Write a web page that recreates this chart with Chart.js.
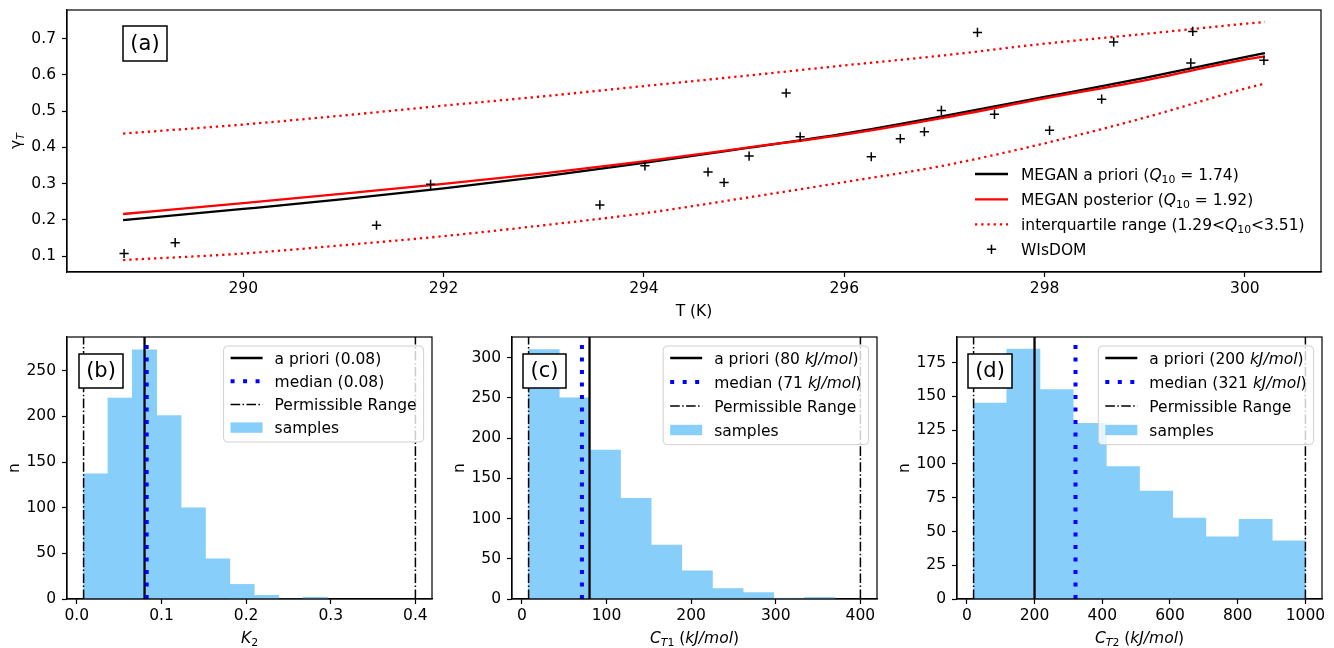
<!DOCTYPE html>
<html>
<head>
<meta charset="utf-8">
<title>MEGAN temperature response</title>
<script src="https://cdn.jsdelivr.net/npm/chart.js@4.4.0/dist/chart.umd.min.js"></script>
<style>
  body { margin: 0; background: #fff; }
  #page { position: relative; width: 1334px; height: 648px; overflow: hidden; }
  canvas { position: absolute; }
</style>
</head>
<body>
<div id="page"></div>
<script>
// ---- panel (a): temperature response curves ----
const T_CURVE = [288.8, 290, 291, 292, 293, 294, 295, 296, 297, 298, 299, 300, 300.2];
const GAMMA_PRIOR = [0.199, 0.230, 0.257, 0.287, 0.320, 0.357, 0.397, 0.438, 0.487, 0.539, 0.592, 0.649, 0.660];
const GAMMA_POSTERIOR = [0.216, 0.246, 0.272, 0.299, 0.328, 0.361, 0.398, 0.435, 0.482, 0.535, 0.585, 0.642, 0.651];
const IQR_UPPER = [0.438, 0.463, 0.488, 0.515, 0.541, 0.569, 0.597, 0.626, 0.654, 0.686, 0.713, 0.741, 0.746];
const IQR_LOWER = [0.089, 0.107, 0.130, 0.155, 0.185, 0.218, 0.260, 0.304, 0.350, 0.411, 0.482, 0.562, 0.576];

const WISDOM_T = [288.81, 289.32, 291.33, 291.87, 293.56, 294.01, 294.64, 294.80, 295.05, 295.42, 295.56, 296.27,
                  296.56, 296.80, 296.97, 297.33, 297.50, 298.05, 298.57, 298.69, 299.46, 299.48, 300.19];
const WISDOM_GAMMA = [0.107, 0.137, 0.185, 0.298, 0.241, 0.349, 0.332, 0.303, 0.376, 0.550, 0.429, 0.374,
                      0.424, 0.443, 0.502, 0.717, 0.491, 0.447, 0.533, 0.691, 0.633, 0.720, 0.640];

const T_TICKS = [290, 292, 294, 296, 298, 300];
const GAMMA_TICKS = [0.1, 0.2, 0.3, 0.4, 0.5, 0.6, 0.7];

// ---- panel (b): K2 samples ----
const K2_BIN_EDGES = [0.008, 0.0368, 0.0656, 0.0944, 0.1232, 0.152, 0.1808, 0.2096, 0.2384, 0.2672, 0.296];
const K2_COUNTS = [137, 220, 273, 201, 100, 44, 16, 4, 0, 2];
const K2_PRIOR = 0.08;
const K2_MEDIAN = 0.0825;
const K2_RANGE = [0.008, 0.4];
const K2_TICKS = [0.0, 0.1, 0.2, 0.3, 0.4];
const K2_N_TICKS = [0, 50, 100, 150, 200, 250];

// ---- panel (c): CT1 samples ----
const CT1_BIN_EDGES = [8, 44.2, 80.4, 116.6, 152.8, 189, 225.2, 261.4, 297.6, 333.8, 370];
const CT1_COUNTS = [310, 250, 185, 125, 67, 35, 13, 8, 1, 2];
const CT1_PRIOR = 80;
const CT1_MEDIAN = 71;
const CT1_RANGE = [8, 400];
const CT1_TICKS = [0, 100, 200, 300, 400];
const CT1_N_TICKS = [0, 50, 100, 150, 200, 250, 300];

// ---- panel (d): CT2 samples ----
const CT2_BIN_EDGES = [20, 118, 216, 314, 412, 510, 608, 706, 804, 902, 1000];
const CT2_COUNTS = [145, 185, 155, 130, 98, 80, 60, 46, 59, 43];
const CT2_PRIOR = 200;
const CT2_MEDIAN = 321;
const CT2_RANGE = [20, 1000];
const CT2_TICKS = [0, 200, 400, 600, 800, 1000];
const CT2_N_TICKS = [0, 25, 50, 75, 100, 125, 150, 175];

const FONT = '"DejaVu Sans"';
const FS = 15.5;
const BLUE_BAR = '#87cefa';

Chart.defaults.font.family = FONT;
Chart.defaults.font.size = FS;
Chart.defaults.color = '#000';

// rich text: parts are [text, style] with style '' normal, 'i' italic, 's' subscript, 'si' italic subscript
function fontFor(style, size) {
    const s = style.includes('s') ? size * 0.7 : size;
    return (style.includes('i') ? 'italic ' : '') + s + 'px ' + FONT;
}

function richWidth(ctx, parts, size) {
    let w = 0;
    for (const [text, style] of parts) {
        ctx.font = fontFor(style, size);
        w += ctx.measureText(text).width;
    }
    return w;
}

function drawRich(ctx, parts, x, midY, size, align) {
    let cx = align === 'center' ? x - richWidth(ctx, parts, size) / 2 : x;
    const baseline = midY + size * 0.365;
    ctx.textAlign = 'left';
    ctx.textBaseline = 'alphabetic';
    ctx.fillStyle = '#000';
    for (const [text, style] of parts) {
        ctx.font = fontFor(style, size);
        ctx.fillText(text, cx, baseline + (style.includes('s') ? size * 0.22 : 0));
        cx += ctx.measureText(text).width;
    }
}

function drawHandle(ctx, item, x0, y, len) {
    ctx.save();
    if (item.kind === 'patch') {
        ctx.fillStyle = item.color;
        ctx.fillRect(x0, y - 5.2, len, 10.4);
    } else if (item.kind === 'marker') {
        const cx = x0 + len / 2;
        ctx.strokeStyle = item.color;
        ctx.lineWidth = 1.5;
        ctx.beginPath();
        ctx.moveTo(cx - 4.6, y); ctx.lineTo(cx + 4.6, y);
        ctx.moveTo(cx, y - 4.6); ctx.lineTo(cx, y + 4.6);
        ctx.stroke();
    } else {
        ctx.strokeStyle = item.color;
        ctx.lineWidth = item.width;
        ctx.setLineDash(item.dash || []);
        ctx.beginPath();
        ctx.moveTo(x0, y);
        ctx.lineTo(x0 + len, y);
        ctx.stroke();
    }
    ctx.restore();
}

// frame, legend, panel letter and axis titles drawn over the chart
function decorations(cfg) {
    return {
        id: 'decor',
        afterDraw(chart) {
            const ctx = chart.ctx;
            const a = chart.chartArea;
            ctx.save();

            ctx.strokeStyle = '#000';
            ctx.lineWidth = 1.2;
            ctx.strokeRect(a.left, a.top, a.right - a.left, a.bottom - a.top);

            // legend
            const lg = cfg.legend;
            if (lg.framed) {
                let maxW = 0;
                lg.items.forEach(it => { maxW = Math.max(maxW, richWidth(ctx, it.label, FS)); });
                const w = 51 + maxW + 7;
                const right = a.right - 8.4;
                const left = right - w;
                const top = a.top + 9;
                ctx.fillStyle = 'rgba(255,255,255,0.8)';
                ctx.strokeStyle = 'rgba(204,204,204,0.9)';
                ctx.lineWidth = 1;
                ctx.beginPath();
                ctx.roundRect(left, top, w, lg.height, 4);
                ctx.fill();
                ctx.stroke();
                lg.items.forEach((it, i) => {
                    const y = top + 12 + i * lg.gap;
                    drawHandle(ctx, it, left + 7, y, 32);
                    drawRich(ctx, it.label, left + 51, y, FS, 'left');
                });
            } else {
                const x0 = a.right - 346;
                lg.items.forEach((it, i) => {
                    const y = a.top + lg.rows[i];
                    drawHandle(ctx, it, x0, y, 33);
                    drawRich(ctx, it.label, x0 + 46, y, FS, 'left');
                });
            }

            // panel letter
            const p = cfg.letter;
            const bx = a.left + p.dx, by = a.top + p.dy;
            ctx.fillStyle = '#fff';
            ctx.fillRect(bx, by, p.w, p.h);
            ctx.strokeStyle = '#000';
            ctx.lineWidth = 1.5;
            ctx.strokeRect(bx, by, p.w, p.h);
            ctx.fillStyle = '#000';
            ctx.font = '21px ' + FONT;
            ctx.textAlign = 'center';
            ctx.textBaseline = 'middle';
            ctx.fillText(p.text, bx + p.w / 2, by + p.h / 2 + 1);

            // axis titles
            drawRich(ctx, cfg.xTitle, (a.left + a.right) / 2, a.bottom + 38, FS, 'center');
            ctx.translate(a.left - cfg.yTitleOffset, (a.top + a.bottom) / 2);
            ctx.rotate(-Math.PI / 2);
            drawRich(ctx, cfg.yTitle, 0, 0, FS, 'center');

            ctx.restore();
        }
    };
}

function axis(kind, range, ticks, fmt, fixedSize, pad) {
    return {
        type: 'linear',
        min: range[0],
        max: range[1],
        offset: false,
        afterBuildTicks: s => { s.ticks = ticks.map(v => ({ value: v })); },
        afterFit: s => {
            // pin the axis box so the plot area lands where the reference has it
            if (kind === 'x') {
                s.height = fixedSize;
                s.paddingLeft = 0;
                s.paddingRight = 0;
            } else {
                s.width = fixedSize;
                s.paddingTop = 0;
                s.paddingBottom = 0;
            }
        },
        ticks: { callback: v => fmt(v), color: '#000', padding: pad, maxRotation: 0, autoSkip: false },
        grid: { offset: false, drawOnChartArea: false, color: '#000', tickColor: '#000', tickLength: 5, tickWidth: 1.2 },
        border: { display: true, color: '#000', width: 1.2 }
    };
}

function makeCanvas(box) {
    const c = document.createElement('canvas');
    c.width = box[2];
    c.height = box[3];
    c.style.left = box[0] + 'px';
    c.style.top = box[1] + 'px';
    document.getElementById('page').appendChild(c);
    return c;
}

function baseOptions(canvasBox, area, scales) {
    return {
        responsive: false,
        animation: false,
        devicePixelRatio: 1,
        layout: {
            padding: {
                left: 0,
                top: area[1] - canvasBox[1],
                right: canvasBox[0] + canvasBox[2] - area[2],
                bottom: 0
            }
        },
        scales: scales,
        plugins: { legend: { display: false }, tooltip: { enabled: false } }
    };
}

// ---------------- panel (a) ----------------
function drawPanelA() {
    const canvasBox = [0, 0, 1334, 325];
    const area = [67, 10, 1321, 272];
    const curve = ys => T_CURVE.map((t, i) => ({ x: t, y: ys[i] }));
    const lineDs = (ys, color, dash, order) => ({
        type: 'line', data: curve(ys), borderColor: color, borderWidth: 2.3, borderDash: dash,
        pointRadius: 0, cubicInterpolationMode: 'monotone', fill: false, order: order
    });

    new Chart(makeCanvas(canvasBox), {
        type: 'line',
        data: {
            datasets: [
                {
                    type: 'line', data: WISDOM_T.map((t, i) => ({ x: t, y: WISDOM_GAMMA[i] })),
                    showLine: false, pointStyle: 'cross', pointRadius: 4.6, pointBorderWidth: 1.5,
                    pointBorderColor: '#000', pointBackgroundColor: '#000', order: 0
                },
                lineDs(GAMMA_POSTERIOR, '#ff0000', [], 1),
                lineDs(GAMMA_PRIOR, '#000000', [], 2),
                lineDs(IQR_UPPER, '#ff0000', [2.3, 3.9], 3),
                lineDs(IQR_LOWER, '#ff0000', [2.3, 3.9], 4)
            ]
        },
        options: baseOptions(canvasBox, area, {
            x: axis('x', [288.24, 300.76], T_TICKS, v => String(v), canvasBox[3] - area[3], 3),
            y: axis('y', [0.056, 0.779], GAMMA_TICKS, v => v.toFixed(1), area[0] - canvasBox[0], 6)
        }),
        plugins: [decorations({
            legend: {
                framed: false,
                rows: [164, 189.3, 214.3, 239.3],
                items: [
                    { kind: 'line', color: '#000', width: 2.3, label: [['MEGAN a priori (', ''], ['Q', 'i'], ['10', 's'], [' = 1.74)', '']] },
                    { kind: 'line', color: '#ff0000', width: 2.3, label: [['MEGAN posterior (', ''], ['Q', 'i'], ['10', 's'], [' = 1.92)', '']] },
                    { kind: 'line', color: '#ff0000', width: 2.3, dash: [2.3, 3.9], label: [['interquartile range (1.29<', ''], ['Q', 'i'], ['10', 's'], ['<3.51)', '']] },
                    { kind: 'marker', color: '#000', label: [['WIsDOM', '']] }
                ]
            },
            letter: { text: '(a)', dx: 56, dy: 16, w: 44, h: 35 },
            xTitle: [['T (K)', '']],
            yTitle: [['γ', ''], ['T', 'si']],
            yTitleOffset: 52
        })]
    });
}

// ---------------- histogram panels ----------------
function drawHistogram(p) {
    const centers = p.edges.slice(0, -1).map((e, i) => (e + p.edges[i + 1]) / 2);
    const vline = (v, color, width, dash, order) => ({
        type: 'line', data: [{ x: v, y: 0 }, { x: v, y: p.yRange[1] }], borderColor: color,
        borderWidth: width, borderDash: dash, borderCapStyle: 'butt', pointRadius: 0, fill: false, order: order
    });
    const dashDot = [9.6, 2.4, 1.5, 2.4];

    new Chart(makeCanvas(p.canvasBox), {
        type: 'bar',
        data: {
            datasets: [
                {
                    type: 'bar', data: centers.map((c, i) => ({ x: c, y: p.counts[i] })),
                    backgroundColor: BLUE_BAR, borderWidth: 0, barPercentage: 1, categoryPercentage: 1, order: 10
                },
                vline(p.median, '#0000ff', 4, [4, 8.5], 0),
                vline(p.prior, '#000000', 2.3, [], 1),
                vline(p.range[0], '#000000', 1.5, dashDot, 2),
                vline(p.range[1], '#000000', 1.5, dashDot, 3)
            ]
        },
        options: baseOptions(p.canvasBox, p.area, {
            x: axis('x', p.xRange, p.xTicks, p.xFmt, p.canvasBox[1] + p.canvasBox[3] - p.area[3], 3),
            y: axis('y', p.yRange, p.yTicks, v => String(v), p.area[0] - p.canvasBox[0], 6)
        }),
        plugins: [decorations({
            legend: {
                framed: true,
                gap: p.legendGap,
                height: p.legendHeight,
                items: [
                    { kind: 'line', color: '#000', width: 2.3, label: p.priorLabel },
                    { kind: 'line', color: '#0000ff', width: 4, dash: [4, 8.5], label: p.medianLabel },
                    { kind: 'line', color: '#000', width: 1.5, dash: dashDot, label: [['Permissible Range', '']] },
                    { kind: 'patch', color: BLUE_BAR, label: [['samples', '']] }
                ]
            },
            letter: p.letter,
            xTitle: p.xTitle,
            yTitle: [['n', '']],
            yTitleOffset: 54
        })]
    });
}

drawPanelA();

drawHistogram({
    canvasBox: [0, 325, 440, 323],
    area: [67, 337, 432, 599],
    edges: K2_BIN_EDGES, counts: K2_COUNTS,
    prior: K2_PRIOR, median: K2_MEDIAN, range: K2_RANGE,
    xRange: [-0.0116, 0.4196], yRange: [0, 287],
    xTicks: K2_TICKS, yTicks: K2_N_TICKS, xFmt: v => v.toFixed(1),
    legendGap: 23.2, legendHeight: 96,
    priorLabel: [['a priori (0.08)', '']],
    medianLabel: [['median (0.08)', '']],
    letter: { text: '(b)', dx: 12, dy: 17, w: 44, h: 34 },
    xTitle: [['K', 'i'], ['2', 's']]
});

drawHistogram({
    canvasBox: [440, 325, 445, 323],
    area: [512, 337, 877, 599],
    edges: CT1_BIN_EDGES, counts: CT1_COUNTS,
    prior: CT1_PRIOR, median: CT1_MEDIAN, range: CT1_RANGE,
    xRange: [-11.6, 419.6], yRange: [0, 325.5],
    xTicks: CT1_TICKS, yTicks: CT1_N_TICKS, xFmt: v => String(v),
    legendGap: 24, legendHeight: 98.6,
    priorLabel: [['a priori (80 ', ''], ['kJ/mol', 'i'], [')', '']],
    medianLabel: [['median (71 ', ''], ['kJ/mol', 'i'], [')', '']],
    letter: { text: '(c)', dx: 11, dy: 17, w: 43, h: 34 },
    xTitle: [['C', 'i'], ['T', 'si'], ['1', 's'], [' (', ''], ['kJ/mol', 'i'], [')', '']]
});

drawHistogram({
    canvasBox: [885, 325, 449, 323],
    area: [957, 337, 1322, 599],
    edges: CT2_BIN_EDGES, counts: CT2_COUNTS,
    prior: CT2_PRIOR, median: CT2_MEDIAN, range: CT2_RANGE,
    xRange: [-29, 1049], yRange: [0, 194],
    xTicks: CT2_TICKS, yTicks: CT2_N_TICKS, xFmt: v => String(v),
    legendGap: 24, legendHeight: 98.6,
    priorLabel: [['a priori (200 ', ''], ['kJ/mol', 'i'], [')', '']],
    medianLabel: [['median (321 ', ''], ['kJ/mol', 'i'], [')', '']],
    letter: { text: '(d)', dx: 11, dy: 17, w: 44, h: 34 },
    xTitle: [['C', 'i'], ['T', 'si'], ['2', 's'], [' (', ''], ['kJ/mol', 'i'], [')', '']]
});
</script>
</body>
</html>
